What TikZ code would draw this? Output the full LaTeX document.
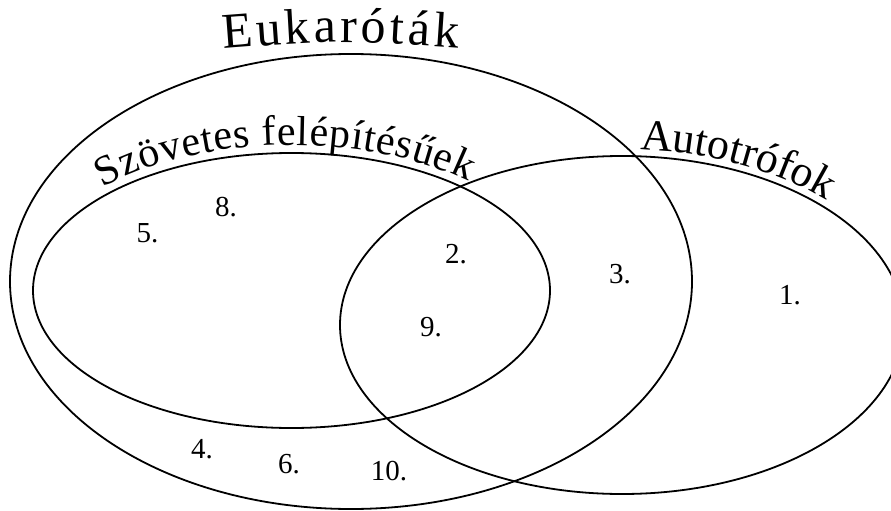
\documentclass[tikz,border=0pt]{standalone}
\usepackage{fontspec}
\setmainfont{Liberation Serif}
\usetikzlibrary{decorations.text}
\begin{document}
\begin{tikzpicture}[x=1pt,y=1pt,
  setline/.style={draw=black, line width=1.8pt},
  num/.style={inner sep=0pt, font=\fontsize{29}{29}\selectfont},
  arctext/.style={decorate, decoration={text along path, text={#1}, text align=fit to path}}]
\useasboundingbox (0,0) rectangle (891,-511);
% sets
\draw[setline] (351,-281.5) ellipse [x radius=341, y radius=227.5];
\draw[setline] (291.5,-290.5) ellipse [x radius=258.5, y radius=137.5];
\draw[setline] (622,-325) ellipse [x radius=282, y radius=169];
% curved titles
\path[arctext={|\fontsize{50}{50}\selectfont|Eukaróták}]
  (223,-49) .. controls (340,-40) .. (458,-48);
\path[arctext={|\fontsize{42}{42}\selectfont|Szövetes felépítésűek}]
  (291.5,-290.5) ++(135:266.5 and 145.5)
  arc [start angle=135, end angle=48.5, x radius=266.5, y radius=145.5];
\path[arctext={|\fontsize{44}{44}\selectfont|Autotrófok}]
  (622,-325) ++(86.4:289 and 176)
  arc [start angle=86.4, end angle=45.5, x radius=289, y radius=176];
% numbers
\node[num] (n1) at (790,-295) {1.};
\node[num] (n2) at (456,-254) {2.};
\node[num] (n3) at (620,-274) {3.};
\node[num] (n4) at (202,-449) {4.};
\node[num] (n5) at (147.5,-233) {5.};
\node[num] (n6) at (289,-464) {6.};
\node[num] (n8) at (226,-207) {8.};
\node[num] (n9) at (431,-327) {9.};
\node[num] (n10) at (389,-471) {10.};
\end{tikzpicture}
\end{document}
